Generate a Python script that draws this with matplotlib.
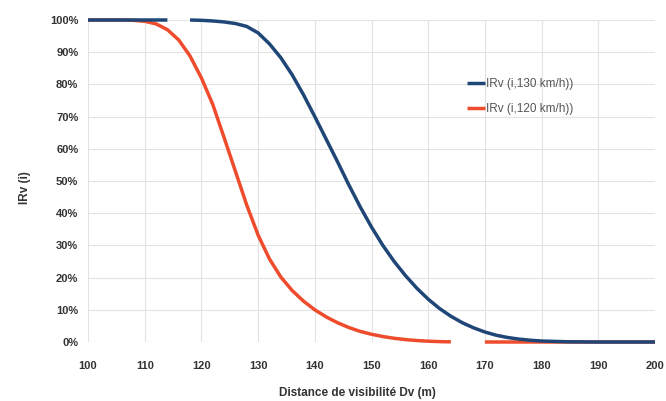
import matplotlib
matplotlib.use("Agg")
import matplotlib.pyplot as plt
import numpy as np

nan = float("nan")

# Data (gaps in the reference lines kept as missing values)
distance = [100, 102, 104, 106, 108, 110, 112, 114, 116, 118, 120, 122, 124, 126,
            128, 130, 132, 134, 136, 138, 140, 142, 144, 146, 148, 150, 152, 154,
            156, 158, 160, 162, 164, 166, 168, 170, 172, 174, 176, 178, 180,
            185, 190, 195, 200]

irv_130 = [100, 100, 100, 100, 100, 100, 100, 100, nan, 100, 99.9, 99.7, 99.4, 98.9,
           98.0, 96.0, 92.6, 88.3, 83.0, 76.8, 70.0, 63.0, 56.0, 48.8, 42.0, 35.7,
           30.0, 25.0, 20.6, 16.7, 13.3, 10.4, 8.0, 6.0, 4.4, 3.1, 2.1, 1.4, 0.9,
           0.55, 0.3, 0.05, 0, 0, 0]

irv_120 = [100, 100, 100, 100, 99.9, 99.6, 98.8, 97.0, 93.8, 88.8, 82.0, 73.8, 63.5,
           53.0, 42.5, 33.2, 25.8, 20.2, 16.0, 12.7, 10.0, 7.8, 6.0, 4.5, 3.3, 2.4,
           1.7, 1.15, 0.75, 0.45, 0.25, 0.12, 0.05, nan, nan, 0, 0, 0, 0, 0, 0,
           0, 0, 0, 0]

series_labels = ["IRv (i,130 km/h))", "IRv (i,120 km/h))"]
x_ticks = [100, 110, 120, 130, 140, 150, 160, 170, 180, 190, 200]
y_ticks = [0, 10, 20, 30, 40, 50, 60, 70, 80, 90, 100]

plt.rcParams['font.family'] = ['Liberation Sans', 'DejaVu Sans']

fig = plt.figure(figsize=(6.66, 4.01), dpi=100)
ax = fig.add_axes([88 / 666, 1 - 342 / 401, (655 - 88) / 666, (342 - 20) / 401])

blue = "#1f4677"
red = "#ee4c2c"

ax.plot(distance, np.array(irv_120) / 100, color=red, lw=2.5, label=series_labels[1],
        clip_on=False, zorder=3, solid_capstyle='butt', solid_joinstyle='round')
ax.plot(distance, np.array(irv_130) / 100, color=blue, lw=2.5, label=series_labels[0],
        clip_on=False, zorder=4, solid_capstyle='butt', solid_joinstyle='round')

ax.set_xlim(100, 200)
ax.set_ylim(0, 1)
ax.set_xticks(x_ticks)
ax.set_yticks([v / 100 for v in y_ticks])
ax.set_yticklabels([f"{v}%" for v in y_ticks])

ax.grid(True, color="#e3e3e3", lw=0.8)
ax.set_axisbelow(True)
for s in ax.spines.values():
    s.set_visible(False)
ax.tick_params(length=0, labelsize=8, labelcolor="#333333")
ax.tick_params(axis='x', pad=14)
ax.tick_params(axis='y', pad=7)
for lab in ax.get_xticklabels() + ax.get_yticklabels():
    lab.set_fontweight('bold')

ax.set_xlabel("Distance de visibilité Dv (m)", fontsize=8.5, fontweight='bold', color="#333333")
ax.xaxis.set_label_coords(0.475, -0.14)
ax.set_ylabel("IRv (i)", fontsize=8.5, fontweight='bold', color="#333333")
ax.yaxis.set_label_coords(-0.1, 0.48)

handles, labels = ax.get_legend_handles_labels()
leg = ax.legend(handles[::-1], labels[::-1], loc='upper left',
                bbox_to_anchor=(467 / 666, 1 - 78 / 401), bbox_transform=fig.transFigure,
                frameon=False, fontsize=8.5, handlelength=1.5, handletextpad=0.1,
                labelspacing=1.1, borderpad=0, borderaxespad=0)
for t in leg.get_texts():
    t.set_color("#555555")

fig.savefig("out.png", dpi=100)
